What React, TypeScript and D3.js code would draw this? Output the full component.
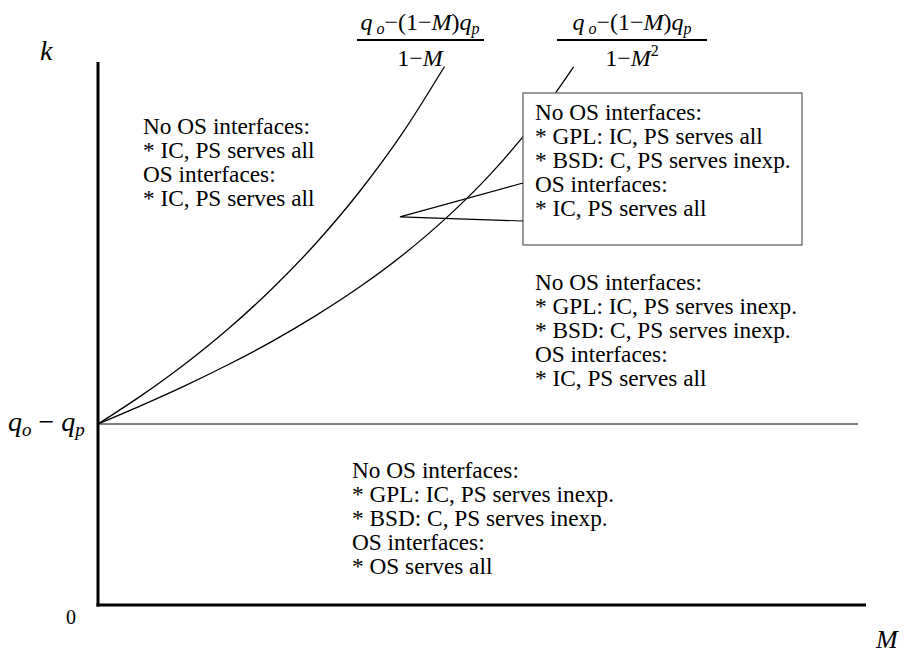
import * as d3 from "d3";

// values, in units of (qo - qp)
const mValues = [0, 0.05, 0.1, 0.15, 0.2, 0.25, 0.3, 0.35, 0.397];
const kCurveOneMinusM = [1, 1.158, 1.333, 1.529, 1.75, 2.0, 2.286, 2.615, 2.975];

const mValues2 = [0, 0.05, 0.1, 0.15, 0.2, 0.25, 0.3, 0.35, 0.4, 0.45, 0.5, 0.545];
const kCurveOneMinusM2 = [1, 1.103, 1.212, 1.33, 1.458, 1.6, 1.758, 1.937, 2.143, 2.382, 2.667, 2.973];

const kBase = 1; // qo - qp
const mMax = 0.88;
const kMax = 3;

const leftText = ["No OS interfaces:", "* IC, PS serves all", "OS interfaces:", "* IC, PS serves all"];
const boxText = [
    "No OS interfaces:",
    "* GPL: IC, PS serves all",
    "* BSD: C, PS serves inexp.",
    "OS interfaces:",
    "* IC, PS serves all",
];
const midText = [
    "No OS interfaces:",
    "* GPL: IC, PS serves inexp.",
    "* BSD: C, PS serves inexp.",
    "OS interfaces:",
    "* IC, PS serves all",
];
const bottomText = [
    "No OS interfaces:",
    "* GPL: IC, PS serves inexp.",
    "* BSD: C, PS serves inexp.",
    "OS interfaces:",
    "* OS serves all",
];

// callout apex, in data units (M, k)
const calloutApex: [number, number] = [0.346, 2.144];

const width = 907;
const height = 656;
const FONT = "Liberation Serif";
const fs = 23.3;
const lineH = 24;

function TextBlock({x, y, lines}: {x: number; y: number; lines: string[]}) {
    return (
        <text x={x} y={y} fontSize={fs} style={{fontFamily: FONT}} fill="#000">
            {lines.map((l, i) => (
                <tspan key={i} x={x} dy={i === 0 ? 0 : lineH}>{l}</tspan>
            ))}
        </text>
    );
}

function Numerator({cx}: {cx: number}) {
    return (
        <text x={cx} y={30} fontSize={24} textAnchor="middle">
            <tspan fontStyle="italic">q</tspan>
            <tspan fontSize={16} fontStyle="italic" dy={4}> o</tspan>
            <tspan dy={-4}>−(1−</tspan>
            <tspan fontStyle="italic">M</tspan>
            <tspan>)</tspan>
            <tspan fontStyle="italic">q</tspan>
            <tspan fontSize={16} fontStyle="italic" dy={4}>p</tspan>
        </text>
    );
}

export default function App() {
    const x = d3.scaleLinear().domain([0, mMax]).range([98, 866]);
    const y = d3.scaleLinear().domain([0, kMax]).range([605, 62]);

    const line = d3.line<[number, number]>()
        .x(d => x(d[0]))
        .y(d => y(d[1]))
        .curve(d3.curveMonotoneX);

    const c1 = mValues.map((m, i) => [m, kCurveOneMinusM[i]] as [number, number]);
    const c2 = mValues2.map((m, i) => [m, kCurveOneMinusM2[i]] as [number, number]);

    // callout box
    const bx = 523, by = 93, bw = 279, bh = 152;
    const ax = x(calloutApex[0]);
    const ay = y(calloutApex[1]);

    return (
        <svg width={width} height={height} style={{position: "absolute", left: 0, top: 0, fontFamily: FONT}}>
            <rect width={width} height={height} fill="#fff"/>

            {/* horizontal line at qo - qp */}
            <line x1={x(0)} x2={858} y1={y(kBase)} y2={y(kBase)} stroke="#000" strokeWidth={1}/>

            <path d={line(c1) ?? ""} fill="none" stroke="#000" strokeWidth={1.3}/>
            <path d={line(c2) ?? ""} fill="none" stroke="#000" strokeWidth={1.3}/>

            {/* axes */}
            <line x1={x(0)} x2={x(0)} y1={y(kMax)} y2={y(0) + 1.5} stroke="#000" strokeWidth={3}/>
            <line x1={x(0) - 1.5} x2={x(mMax)} y1={y(0)} y2={y(0)} stroke="#000" strokeWidth={3}/>

            {/* callout */}
            <rect x={bx} y={by} width={bw} height={bh} fill="#fff" stroke="#666" strokeWidth={1.3}/>
            <polyline points={`${bx},${by + 90} ${ax},${ay} ${bx},${by + 128}`} fill="none" stroke="#000" strokeWidth={1.2}/>

            <TextBlock x={143} y={134} lines={leftText}/>
            <TextBlock x={535} y={120} lines={boxText}/>
            <TextBlock x={535} y={290} lines={midText}/>
            <TextBlock x={352} y={478} lines={bottomText}/>

            {/* axis labels */}
            <text x={40} y={60} fontSize={28} fontStyle="italic">k</text>
            <text x={876} y={648} fontSize={26} fontStyle="italic">M</text>
            <text x={66} y={624} fontSize={20}>0</text>
            <text x={8} y={431} fontSize={28}>
                <tspan fontStyle="italic">q</tspan>
                <tspan fontSize={19} fontStyle="italic" dy={5}>o</tspan>
                <tspan dy={-5}> − </tspan>
                <tspan fontStyle="italic">q</tspan>
                <tspan fontSize={19} fontStyle="italic" dy={5}>p</tspan>
            </text>

            {/* formulas */}
            <Numerator cx={420}/>
            <line x1={357} x2={484} y1={40} y2={40} stroke="#000" strokeWidth={2}/>
            <text x={420} y={66} fontSize={24} textAnchor="middle">
                <tspan>1−</tspan>
                <tspan fontStyle="italic">M</tspan>
            </text>

            <Numerator cx={632}/>
            <line x1={557} x2={707} y1={40} y2={40} stroke="#000" strokeWidth={2}/>
            <text x={632} y={66} fontSize={24} textAnchor="middle">
                <tspan>1−</tspan>
                <tspan fontStyle="italic">M</tspan>
                <tspan fontSize={16} dy={-10}>2</tspan>
            </text>
        </svg>
    );
}
